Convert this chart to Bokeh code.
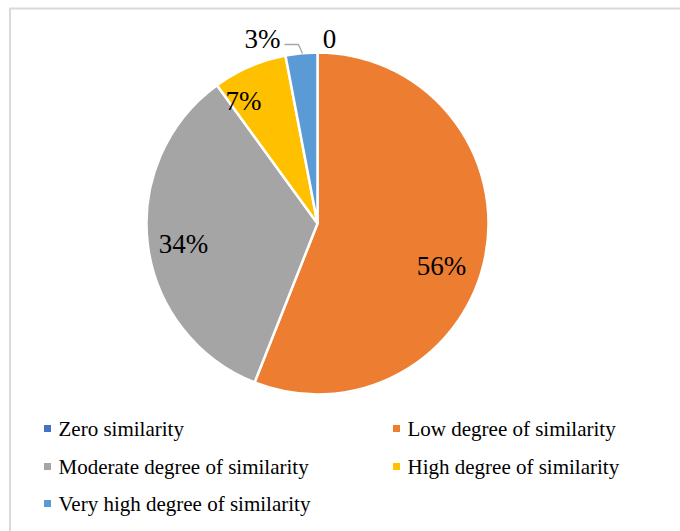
import math
from bokeh.plotting import figure
from bokeh.models import Range1d, ColumnDataSource
from bokeh.core.properties import value
from bokeh.embed import file_html
from bokeh.resources import INLINE

# ---- data ----
categories = ["Zero similarity", "Low degree of similarity", "Moderate degree of similarity",
              "High degree of similarity", "Very high degree of similarity"]
percent = [0, 56, 34, 7, 3]
labels = ["0", "56%", "34%", "7%", "3%"]
colors = ["#4472C4", "#ED7D31", "#A5A5A5", "#FFC000", "#5B9BD5"]

# ---- layout (screen pixels of the 680x531 page) ----
W, H = 680, 531
def sx(X):
    return X
def sy(Y):
    return H - Y

CX, CY, R = 317, 223, 171
label_screen = [(329, 38), (441, 265), (183, 243), (243, 100), (262, 38)]
legend_cols = [47, 396]
legend_rows = [428, 466, 503]
FONT = "'Liberation Serif', 'Times New Roman', serif"

p = figure(width=W, height=H, x_range=Range1d(0, W), y_range=Range1d(0, H),
           output_backend="svg", toolbar_location=None, min_border=0)
p.axis.visible = False
p.grid.visible = False
p.outline_line_color = None
p.background_fill_color = "white"
p.border_fill_color = "white"

# frame (only top and left visible in the reference)
p.line([sx(9.5), sx(9.5), W], [0, sy(8), sy(8)], line_color="#d9d9d9", line_width=2)

# pie wedges (start at 12 o'clock, clockwise)
total = sum(percent)
starts, ends = [], []
cum = 0.0
for v in percent:
    a0 = math.pi / 2 - 2 * math.pi * cum / total
    cum += v
    a1 = math.pi / 2 - 2 * math.pi * cum / total
    starts.append(a1)
    ends.append(a0)
idx = [i for i, v in enumerate(percent) if v > 0]
src = ColumnDataSource(dict(x=[sx(CX)] * len(idx), y=[sy(CY)] * len(idx),
                            start=[starts[i] for i in idx], end=[ends[i] for i in idx],
                            color=[colors[i] for i in idx]))
p.wedge(x="x", y="y", radius=R, start_angle="start", end_angle="end",
        direction="anticlock", fill_color="color", line_color="white",
        line_width=2.5, source=src)

# leader line for the 3% label
p.line([sx(284), sx(298), sx(302)], [sy(44), sy(44), sy(53)],
       line_color="#a6a6a6", line_width=1.3)

# data labels
p.text(x=[sx(X) for X, _ in label_screen], y=[sy(Y) for _, Y in label_screen], text=labels,
       text_font=value(FONT), text_font_size="27px", text_color="#000000",
       text_align="center", text_baseline="middle")

# legend
lx, ly, lt = [], [], []
for i, name in enumerate(categories):
    col = i % 2
    row = i // 2
    lx.append(legend_cols[col])
    ly.append(legend_rows[row])
    lt.append(name)
p.scatter(x=[sx(X) for X in lx], y=[sy(Y) for Y in ly], marker="square", size=7,
          fill_color=colors, line_color=None)
p.text(x=[sx(X) + 11 for X in lx], y=[sy(Y) for Y in ly], text=lt,
       text_font=value(FONT), text_font_size="21px", text_color="#000000",
       text_align="left", text_baseline="middle")

open("out.html", "w").write(file_html(p, INLINE))
